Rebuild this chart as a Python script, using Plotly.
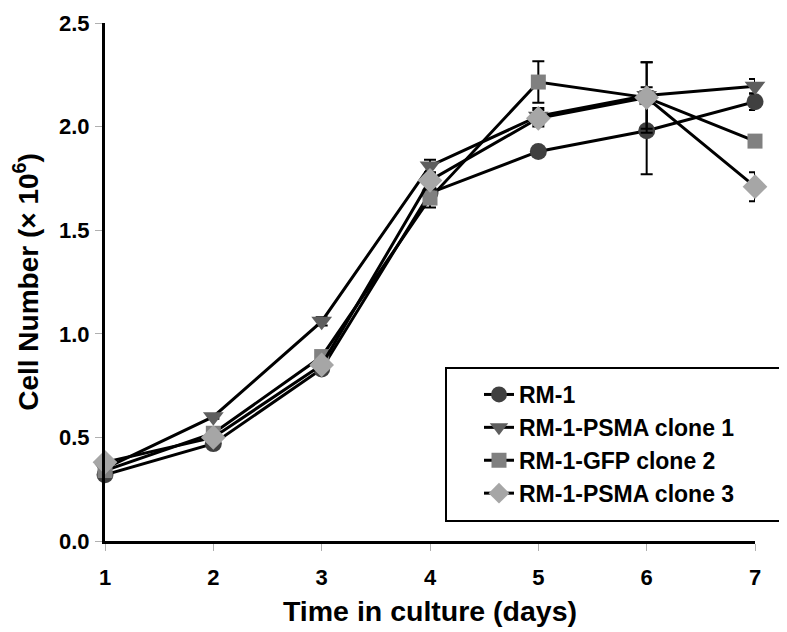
import plotly.graph_objects as go

days = [1, 2, 3, 4, 5, 6, 7]
series_names = ["RM-1", "RM-1-PSMA clone 1", "RM-1-GFP clone 2", "RM-1-PSMA clone 3"]
rm1 = [0.32, 0.47, 0.83, 1.68, 1.88, 1.98, 2.12]
psma1 = [0.35, 0.60, 1.06, 1.81, 2.05, 2.15, 2.195]
gfp2 = [0.34, 0.52, 0.89, 1.655, 2.215, 2.14, 1.93]
psma3 = [0.38, 0.50, 0.85, 1.74, 2.04, 2.14, 1.71]
rm1_err = [0.01, 0.02, 0.01, 0.03, 0.01, 0.21, 0.04]
psma1_err = [0.01, 0.01, 0.02, 0.03, 0.04, 0.16, 0.035]
gfp2_err = [0.01, 0.02, 0.02, 0.045, 0.10, 0.17, 0.02]
psma3_err = [0.01, 0.02, 0.02, 0.03, 0.04, 0.03, 0.07]
x_ticks = [1, 2, 3, 4, 5, 6, 7]
y_ticks = [0.0, 0.5, 1.0, 1.5, 2.0, 2.5]

values = [rm1, psma1, gfp2, psma3]
errors = [rm1_err, psma1_err, gfp2_err, psma3_err]
symbols = ["circle", "triangle-down", "square", "diamond"]
colors = ["#404040", "#5e5e5e", "#808080", "#a6a6a6"]
sizes = [17, 18, 15, 19]

FONT = "Liberation Sans, Arial, sans-serif"

fig = go.Figure()
for i, name in enumerate(series_names):
    fig.add_trace(go.Scatter(
        x=days, y=values[i], name=name, mode="lines+markers",
        legendgroup=name,
        line=dict(color="black", width=3),
        marker=dict(symbol=symbols[i], color=colors[i], size=sizes[i],
                    line=dict(width=0)),
        error_y=dict(type="data", array=errors[i], color="black",
                     thickness=2, width=6),
        cliponaxis=False,
    ))

fig.update_layout(
    width=787, height=632,
    margin=dict(l=97, r=40, t=15, b=99, autoexpand=False),
    paper_bgcolor="white", plot_bgcolor="white",
    font=dict(family=FONT, color="black"),
    showlegend=True,
    legend=dict(
        x=(471 - 97) / 650, y=(533 - 365) / 518, xanchor="left", yanchor="top",
        bgcolor="rgba(0,0,0,0)", borderwidth=0,
        font=dict(size=23, family=FONT, color="black", weight="bold"),
        traceorder="grouped", tracegroupgap=0,
        itemwidth=30,
    ),
    xaxis=dict(
        range=[1, 7], tickvals=x_ticks, ticktext=[str(v) for v in x_ticks],
        showgrid=False, zeroline=False, automargin=False,
        showline=True, linecolor="black", linewidth=3,
        ticks="outside", ticklen=7, tickcolor="#b0b0b0", tickwidth=1,
        tickfont=dict(size=22, family=FONT, color="black", weight="bold"),
        ticklabelstandoff=8,
        title=dict(text="<b>Time in culture (days)</b>", standoff=12,
                   font=dict(size=28.5, family=FONT, color="black")),
    ),
    yaxis=dict(
        range=[0, 2.5], tickvals=y_ticks, ticktext=[f"{v:.1f}" for v in y_ticks],
        showgrid=False, zeroline=False, automargin=False,
        showline=True, linecolor="black", linewidth=3,
        ticks="outside", ticklen=7, tickcolor="#b0b0b0", tickwidth=1,
        tickfont=dict(size=22, family=FONT, color="black", weight="bold"),
        ticklabelstandoff=1,
        title=dict(text="<b>Cell Number (× 10<sup>6</sup>)</b>", standoff=17,
                   font=dict(size=28, family=FONT, color="black")),
    ),
    shapes=[dict(type="rect", xref="paper", yref="paper",
                 x0=(438 - 97) / 650, x1=(779 - 97) / 650,
                 y0=(533 - 513) / 518, y1=(533 - 360) / 518,
                 line=dict(color="black", width=2), fillcolor="rgba(0,0,0,0)",
                 layer="below")],
)

fig.write_html("out.html")
